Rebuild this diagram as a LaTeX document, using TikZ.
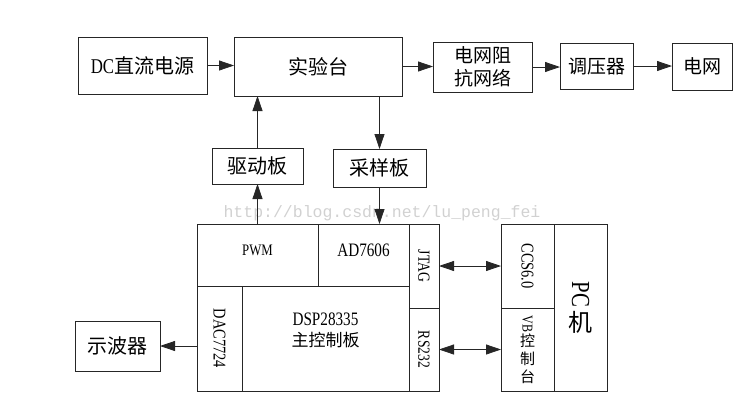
\documentclass[tikz,border=0pt]{standalone}
\usepackage{fontspec}
\setmainfont{Liberation Serif}[FakeStretch=0.8]
\newfontfamily\cjk{Noto Sans CJK SC}
\newfontfamily\wmfont{Liberation Mono}
\usetikzlibrary{arrows.meta}
\newcommand{\fs}[2]{\fontsize{#1}{#2}\selectfont}
\begin{document}
\begin{tikzpicture}[x=1pt,y=-1pt,
  box/.style={draw=black!85, line width=0.8pt, inner sep=0pt, outer sep=0pt, anchor=north west, align=center},
  txt/.style={inner sep=0pt, align=center},
  arr/.style={draw=black!85, line width=0.8pt, -{Triangle[length=15pt,width=10pt]}},
  darr/.style={draw=black!85, line width=0.8pt, {Triangle[length=15pt,width=10pt]}-{Triangle[length=15pt,width=10pt]}}]
\useasboundingbox (0,0) rectangle (748,408);
% watermark
\node[text=black!18, font=\wmfont\fs{16.5}{18}] (wm) at (382,213) {http://blog.csdn.net/lu\_peng\_fei};
% top row
\node[box, minimum width=129pt, minimum height=57pt, font=\fs{21}{24}] (dc) at (78,37) {DC{\cjk\fs{20}{24}直流电源}};
\node[box, minimum width=168pt, minimum height=59pt, font=\cjk\fs{20}{24}] (syt) at (234,37) {实验台};
\node[box, minimum width=99pt, minimum height=50pt, font=\cjk\fs{19}{23}] (zk) at (433,42) {电网阻\\抗网络};
\node[box, minimum width=73pt, minimum height=46pt, font=\cjk\fs{19}{23}] (tyq) at (560,43) {调压器};
\node[box, minimum width=60pt, minimum height=47pt, font=\cjk\fs{19}{23}] (dw) at (672,43) {电网};
\node[box, minimum width=91pt, minimum height=36pt, font=\cjk\fs{20}{24}] (qd) at (212,148) {驱动板};
\node[box, minimum width=93pt, minimum height=38pt, font=\cjk\fs{20}{24}] (cy) at (333,149) {采样板};
% DSP block
\node[box, minimum width=121pt, minimum height=62pt] (pwm) at (197,224) {};
\node[txt, font=\fs{16}{19}] (pwmt) at ([yshift=5pt]pwm.center) {PWM};
\node[box, minimum width=91pt, minimum height=62pt] (ad) at (318,224) {};
\node[txt, font=\fs{19}{22}] (adt) at ([yshift=5pt]ad.center) {AD7606};
\node[box, minimum width=30pt, minimum height=84pt, font=\fs{17}{20}] (jtag) at (409,224) {\rotatebox[origin=c]{-90}{JTAG}};
\node[box, minimum width=30pt, minimum height=83pt, font=\fs{17}{20}] (rs) at (409,308) {\rotatebox[origin=c]{-90}{RS232}};
\node[box, minimum width=45pt, minimum height=105pt, font=\fs{18}{21}] (dac) at (197,286) {\rotatebox[origin=c]{-90}{DAC7724}};
\node[box, minimum width=167pt, minimum height=105pt] (dsp) at (242,286) {};
\node[txt, font=\fs{19}{21}] (dspt) at ([yshift=8pt]dsp.center) {DSP28335\\{\cjk\fs{17}{21}主控制板}};
% PC block
\node[box, minimum width=53pt, minimum height=84pt, font=\fs{18}{21}] (ccs) at (501,224) {\rotatebox[origin=c]{-90}{CCS6.0}};
\node[box, minimum width=53pt, minimum height=83pt, font=\fs{15}{18}] (vb) at (501,308) {\rotatebox[origin=c]{-90}{VB}\\{\cjk 控}\\{\cjk 制}\\{\cjk 台}};
\node[box, minimum width=53pt, minimum height=167pt, font=\fs{26}{28}] (pcm) at (554,224) {\rotatebox[origin=c]{-90}{PC}\\{\cjk\fs{24}{28}机}};
% scope
\node[box, minimum width=85pt, minimum height=50pt, font=\cjk\fs{20}{24}] (sbq) at (75,321) {示波器};
% connectors
\draw[arr] (dc.east) -- (dc.east -| syt.west);
\draw[arr] (syt.east) -- (syt.east -| zk.west);
\draw[arr] (zk.east) -- (zk.east -| tyq.west);
\draw[arr] (tyq.east) -- (tyq.east -| dw.west);
\draw[arr] (qd.north) -- (qd.north |- syt.south);
\draw[arr] (syt.south -| cy.north) -- (cy.north);
\draw[arr] (pwm.north -| qd.south) -- (qd.south);
\draw[arr] (cy.south) -- (cy.south |- ad.north);
\draw[arr] (dac.west |- sbq.east) -- (sbq.east);
\draw[darr] (jtag.east) -- (jtag.east -| ccs.west);
\draw[darr] (rs.east) -- (rs.east -| vb.west);
\end{tikzpicture}
\end{document}
